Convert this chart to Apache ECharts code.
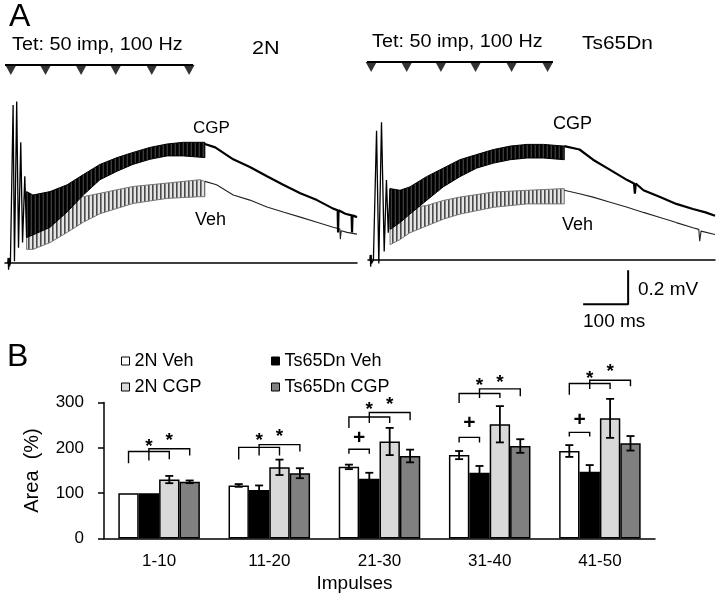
<!DOCTYPE html>
<html><head><meta charset="utf-8">
<script src="https://cdn.jsdelivr.net/npm/echarts@6/dist/echarts.min.js"></script>
<style>html,body{margin:0;padding:0;background:#fff}#c{width:720px;height:606px}</style>
</head><body><div id="c"></div>
<script>
// ---------- Panel B data ----------
const impulseCats = ['1-10', '11-20', '21-30', '31-40', '41-50'];
const seriesNames = ['2N Veh', 'Ts65Dn Veh', '2N CGP', 'Ts65Dn CGP'];
const veh2N      = [100, 117, 158, 184, 193];
const veh2NErr   = [0, 3, 5, 9, 13];
const vehTs      = [100, 107, 132, 145, 147];
const vehTsErr   = [0, 10, 13, 15, 15];
const cgp2N      = [130, 157, 214, 252, 265];
const cgp2NErr   = [8, 17, 30, 40, 43];
const cgpTs      = [125, 144, 182, 204, 210];
const cgpTsErr   = [3, 11, 14, 15, 16];
const areaTicks  = [0, 100, 200, 300];
// significance brackets: [category, fromBar, toBar, level, leftEnd, rightEnd, markLevel]
const sigBrackets = [
  [0, 0, 2, 192, 166, 175, 212], [0, 1, 3, 198, 172, 183, 224],
  [1, 0, 2, 201, 174, 183, 224], [1, 1, 3, 207, 183, 192, 234],
  [2, 0, 1, 197, 187, 187, 222], [2, 0, 2, 268, 244, 255, 293], [2, 1, 3, 278, 255, 261, 303],
  [3, 0, 1, 223, 212, 212, 255], [3, 0, 2, 320, 299, 310, 345], [3, 1, 3, 330, 310, 314, 352],
  [4, 0, 1, 234, 225, 225, 261], [4, 0, 2, 342, 317, 330, 362], [4, 1, 3, 349, 330, 336, 376]
];
const sigMarks = ['*', '*', '*', '*', '+', '*', '*', '+', '*', '*', '+', '*', '*'];

// ---------- Panel A data (time in ms, potential in mV) ----------
const leftSpikes = [[6,0],[7,0.03],[8,-0.04],[9,0.03],[10,-0.02],[12,0],[18,0.93],[21,0.01],[26,0.95],[30,0.09],[35,0.71],[39,0.12],[44,0.51],[48,0.15]];
const leftCgpBand = [[48,0.15,0.42],[62,0.165,0.40],[100,0.21,0.42],[138,0.30,0.46],[174,0.40,0.52],[211,0.49,0.58],[249,0.54,0.62],[284,0.58,0.65],[322,0.61,0.68],[360,0.63,0.70],[396,0.63,0.71],[444,0.62,0.71]];
const leftCgpDecay = [[444,0.70],[467,0.68],[507,0.61],[544,0.565],[582,0.51],[618,0.46],[656,0.41],[693,0.37],[729,0.32],[739,0.31],[740,0.18],[741,0.31],[756,0.29],[770,0.28],[771,0.18],[772,0.28],[782,0.27]];
const leftVehBand = [[48,0.08,0.33],[62,0.08,0.33],[100,0.12,0.35],[138,0.18,0.37],[174,0.24,0.39],[211,0.29,0.41],[284,0.35,0.45],[360,0.38,0.47],[433,0.39,0.49],[444,0.39,0.48]];
const leftVehDecay = [[444,0.48],[470,0.46],[507,0.40],[544,0.37],[582,0.33],[618,0.30],[656,0.27],[693,0.24],[729,0.21],[744,0.20],[745,0.14],[747,0.19],[760,0.18],[782,0.17]];

const rightSpikes = [[4,0],[5,0.03],[6,-0.04],[7,0.03],[8,-0.02],[12,0],[19,0.76],[24,-0.02],[30,0.81],[36,0.05],[41,0.47],[45,0.16],[49,0.42]];
const rightCgpBand = [[49,0.18,0.42],[71,0.22,0.41],[93,0.27,0.43],[130,0.35,0.49],[167,0.43,0.54],[204,0.49,0.59],[241,0.54,0.62],[279,0.57,0.65],[316,0.59,0.67],[353,0.60,0.68],[390,0.60,0.68],[436,0.59,0.67]];
const rightCgpDecay = [[436,0.67],[470,0.65],[500,0.59],[538,0.53],[576,0.47],[591,0.45],[593,0.39],[595,0.45],[612,0.41],[649,0.37],[685,0.33],[722,0.30],[750,0.28],[771,0.26]];
const rightVehBand = [[49,0.09,0.35],[71,0.12,0.34],[93,0.16,0.31],[130,0.20,0.32],[167,0.24,0.35],[204,0.27,0.37],[279,0.31,0.40],[353,0.33,0.41],[436,0.33,0.42]];
const rightVehDecay = [[436,0.41],[470,0.39],[500,0.37],[538,0.34],[576,0.31],[612,0.28],[649,0.25],[685,0.22],[722,0.19],[735,0.18],[737,0.11],[740,0.17],[771,0.15]];

// stimulus train markers (ms) and level (mV)
const stimTrainLeft = [0, 418];
const stimMarksLeft = [13, 90, 169, 246, 326, 409];
const stimTrainRight = [-7, 411];
const stimMarksRight = [7, 86, 162, 239, 319, 399];
const stimLevel = 1.165;
// scale bar
const scaleBarMs = 100, scaleBarMv = 0.2;
const scaleBarCorner = [578, -0.26];

// ---------- build ----------
const FONT = "'Liberation Sans', Arial, sans-serif";
const GAP = 0.26;
const chart = echarts.init(document.getElementById('c'), null, {renderer: 'canvas'});

function stripePattern(lineColor, bg, period, lw) {
  const c = document.createElement('canvas');
  c.width = period; c.height = 4;
  const ctx = c.getContext('2d');
  ctx.fillStyle = bg; ctx.fillRect(0, 0, period, 4);
  ctx.fillStyle = lineColor; ctx.fillRect(0, 0, lw, 4);
  return {image: c, repeat: 'repeat'};
}
const vehFill = stripePattern('#4a4a4a', '#e4e4e4', 4, 1.6);
const cgpFill = stripePattern('#000000', '#3a3a3a', 4, 2.6);

function bandRenderer(band, fill, stroke) {
  return function (params, api) {
    if (params.dataIndex !== 0) return null;
    const top = band.map(p => api.coord([p[0], p[2]]));
    const bot = band.slice().reverse().map(p => api.coord([p[0], p[1]]));
    return {type: 'polygon', shape: {points: top.concat(bot)},
      style: {fill: fill, stroke: stroke, lineWidth: 1}};
  };
}
function lineS(data, gi, color, w, clip) {
  return {type: 'line', data: data, xAxisIndex: gi, yAxisIndex: gi, showSymbol: false, symbol: 'none',
    lineStyle: {color: color, width: w}, animation: false, clip: clip !== false, z: 3};
}
function bandS(band, gi, fill, stroke) {
  return {type: 'custom', data: band, xAxisIndex: gi, yAxisIndex: gi, encode: {x: 0, y: 1},
    renderItem: bandRenderer(band, fill, stroke), animation: false, z: 2};
}
function stimS(train, marks, gi) {
  return [
    {type: 'line', data: train.map(t => [t, stimLevel]), xAxisIndex: gi, yAxisIndex: gi, symbol: 'none',
      lineStyle: {color: '#000', width: 2}, clip: false, animation: false},
    {type: 'scatter', data: marks.map(t => [t, stimLevel]), xAxisIndex: gi, yAxisIndex: gi,
      symbol: 'triangle', symbolSize: [11, 10], symbolRotate: 180, symbolOffset: [0, 5],
      itemStyle: {color: '#000'}, clip: false, animation: false}
  ];
}

const means = [veh2N, vehTs, cgp2N, cgpTs];
const errs = [veh2NErr, vehTsErr, cgp2NErr, cgpTsErr];
const errData = [];
means.forEach((m, bi) => m.forEach((v, ci) => errData.push([ci, v, errs[bi][ci], bi])));

function barCenter(api, cat, bi) {
  const catW = api.size([1, 0])[0];
  const bw = catW * (1 - GAP) / 4;
  return api.coord([cat, 0])[0] + (bi - 1.5) * bw;
}
function errRender(params, api) {
  const cat = api.value(0), m = api.value(1), e = api.value(2), bi = api.value(3);
  if (!e) return null;
  const cx = barCenter(api, cat, bi);
  const yt = api.coord([cat, m + e])[1], yb = api.coord([cat, m - e])[1];
  const h = 4, st = {stroke: '#000', lineWidth: 1.8};
  return {type: 'group', children: [
    {type: 'line', shape: {x1: cx, y1: yt, x2: cx, y2: yb}, style: st},
    {type: 'line', shape: {x1: cx - h, y1: yt, x2: cx + h, y2: yt}, style: st},
    {type: 'line', shape: {x1: cx - h, y1: yb, x2: cx + h, y2: yb}, style: st}
  ]};
}
function bracketRender(params, api) {
  const cat = api.value(0), b0 = api.value(1), b1 = api.value(2);
  const lvl = api.value(3), le = api.value(4), re = api.value(5), ml = api.value(6);
  const x0 = barCenter(api, cat, b0), x1 = barCenter(api, cat, b1);
  const y = api.coord([cat, lvl])[1], yl = api.coord([cat, le])[1], yr = api.coord([cat, re])[1];
  const mark = sigMarks[params.dataIndex];
  const my = api.coord([cat, ml])[1] + (mark === '*' ? 4 : 0);
  return {type: 'group', children: [
    {type: 'polyline', shape: {points: [[x0, yl], [x0, y], [x1, y], [x1, yr]]},
      style: {stroke: '#000', lineWidth: 1.4, fill: null}},
    {type: 'text', x: (x0 + x1) / 2, y: my,
      style: {text: mark, fontSize: mark === '*' ? 19 : 21, fontWeight: 'bold',
        fontFamily: FONT, fill: '#000', align: 'center', verticalAlign: 'middle'}}
  ]};
}

function txt(text, x, y, fs, sx) {
  return {type: 'text', x: x, y: y, scaleX: sx || 1,
    style: {text: text, fontSize: fs, fontFamily: FONT, fill: '#000', align: 'left', verticalAlign: 'middle'}};
}
function legendItem(name, left, top) {
  return {data: [name], left: left, top: top, itemWidth: 8, itemHeight: 8, icon: 'rect', selectedMode: false,
    itemStyle: {borderColor: '#000', borderWidth: 1},
    textStyle: {fontSize: 18, color: '#000', fontFamily: FONT}};
}

const hiddenY = (gi) => ({type: 'value', gridIndex: gi, min: -0.3, max: 1.3, show: false});
const traceX = (gi, max) => ({type: 'value', gridIndex: gi, min: 0, max: max,
  axisLine: {show: true, onZero: true, lineStyle: {color: '#000', width: 1.5}},
  axisTick: {show: false}, axisLabel: {show: false}, splitLine: {show: false}});

const option = {
  backgroundColor: '#fff',
  animation: false,
  textStyle: {fontFamily: FONT},
  grid: [
    {left: 5, top: 42, width: 352, height: 272},
    {left: 368, top: 39, width: 347, height: 272},
    {left: 104, top: 402.5, width: 551, height: 136}
  ],
  xAxis: [
    traceX(0, 782), traceX(1, 771),
    {type: 'category', gridIndex: 2, data: impulseCats,
      axisLine: {lineStyle: {color: '#000', width: 1.5}},
      axisTick: {length: 6, lineStyle: {color: '#000', width: 1.5}},
      axisLabel: {color: '#000', fontSize: 17, margin: 14, fontFamily: FONT},
      name: 'Impulses', nameLocation: 'middle', nameGap: 36,
      nameTextStyle: {color: '#000', fontSize: 19, fontFamily: FONT, padding: [0, 50, 0, 0]}}
  ],
  yAxis: [
    hiddenY(0), hiddenY(1),
    {type: 'value', gridIndex: 2, min: areaTicks[0], max: areaTicks[areaTicks.length - 1], interval: 100,
      axisLine: {show: true, lineStyle: {color: '#000', width: 1.5}},
      axisTick: {show: true, length: 6, lineStyle: {color: '#000', width: 1.5}},
      axisLabel: {color: '#000', fontSize: 17, margin: 20, fontFamily: FONT},
      splitLine: {show: false},
      name: 'Area  (%)', nameLocation: 'middle', nameGap: 62, nameRotate: 90,
      nameTextStyle: {color: '#000', fontSize: 20, fontFamily: FONT}}
  ],
  legend: [
    legendItem(seriesNames[0], 116, 347), legendItem(seriesNames[1], 266, 347),
    legendItem(seriesNames[2], 116, 373), legendItem(seriesNames[3], 266, 373)
  ],
  graphic: {elements: [
    txt('A', 9, 17, 32), txt('B', 7, 357, 32),
    txt('Tet: 50 imp, 100 Hz', 12, 45, 18, 1.1),
    txt('2N', 252, 49, 18, 1.2),
    txt('Tet: 50 imp, 100 Hz', 372, 42, 18, 1.1),
    txt('Ts65Dn', 582, 44, 19, 1.1),
    txt('CGP', 193, 128, 17), txt('Veh', 195, 220, 18),
    txt('CGP', 553, 124, 18), txt('Veh', 562, 225, 18),
    txt('0.2 mV', 638, 290, 19), txt('100 ms', 583, 322, 19)
  ]},
  series: [
    // left traces
    bandS(leftVehBand, 0, vehFill, '#777'), lineS(leftVehDecay, 0, '#222', 1.1),
    bandS(leftCgpBand, 0, cgpFill, '#000'), lineS(leftCgpDecay, 0, '#000', 2.2),
    lineS(leftSpikes, 0, '#000', 1.3),
    ...stimS(stimTrainLeft, stimMarksLeft, 0),
    // right traces
    bandS(rightVehBand, 1, vehFill, '#777'), lineS(rightVehDecay, 1, '#222', 1.1),
    bandS(rightCgpBand, 1, cgpFill, '#000'), lineS(rightCgpDecay, 1, '#000', 2.2),
    lineS(rightSpikes, 1, '#000', 1.3),
    ...stimS(stimTrainRight, stimMarksRight, 1),
    lineS([[scaleBarCorner[0] - scaleBarMs, scaleBarCorner[1]], scaleBarCorner,
           [scaleBarCorner[0], scaleBarCorner[1] + scaleBarMv]], 1, '#000', 2, false),
    // bars
    ...seriesNames.map((n, i) => ({
      type: 'bar', name: n, data: means[i], xAxisIndex: 2, yAxisIndex: 2,
      barGap: '0%', barCategoryGap: (GAP * 100) + '%',
      itemStyle: {color: ['#ffffff', '#000000', '#d9d9d9', '#808080'][i], borderColor: '#000', borderWidth: 1.5},
      z: 2, animation: false
    })),
    {type: 'custom', data: errData, xAxisIndex: 2, yAxisIndex: 2, encode: {x: 0, y: 1},
      renderItem: errRender, z: 4, animation: false},
    {type: 'custom', data: sigBrackets, xAxisIndex: 2, yAxisIndex: 2, encode: {x: 0, y: 3},
      renderItem: bracketRender, z: 4, clip: false, animation: false}
  ]
};
chart.setOption(option);
</script></body></html>
